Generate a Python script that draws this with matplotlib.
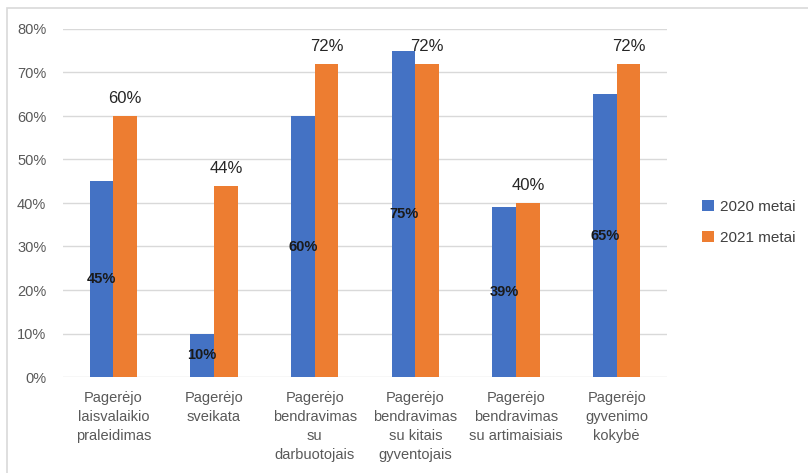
import matplotlib.pyplot as plt
import numpy as np
from matplotlib.patches import Rectangle

# Survey results, share of respondents (%)
categories = [
    "Pagerėjo\nlaisvalaikio\npraleidimas",
    "Pagerėjo\nsveikata",
    "Pagerėjo\nbendravimas\nsu\ndarbuotojais",
    "Pagerėjo\nbendravimas\nsu kitais\ngyventojais",
    "Pagerėjo\nbendravimas\nsu artimaisiais",
    "Pagerėjo\ngyvenimo\nkokybė",
]
values_2020 = [45, 10, 60, 75, 39, 65]
values_2021 = [60, 44, 72, 72, 40, 72]
series_names = ["2020 metai", "2021 metai"]

plt.rcParams['font.family'] = ['Liberation Sans', 'DejaVu Sans']

fig = plt.figure(figsize=(8.08, 4.73), dpi=100)
ax = fig.add_axes([63 / 808, 1 - 377 / 473, 604 / 808, 348 / 473])

# light frame around the chart area
fig.patches.append(Rectangle((7 / 808, -0.1), 1.2, 1 - 8 / 473 + 0.1,
                             transform=fig.transFigure, fill=False,
                             edgecolor='#D9D9D9', linewidth=1.2))

x = np.arange(len(categories))
w = 0.235
b1 = ax.bar(x - w / 2, values_2020, w, color='#4472C4', label=series_names[0], zorder=3)
b2 = ax.bar(x + w / 2, values_2021, w, color='#ED7D31', label=series_names[1], zorder=3)

for rect, v in zip(b1, values_2020):
    ax.text(rect.get_x() + rect.get_width() / 2, v / 2, f"{v}%",
            ha='center', va='center', fontsize=10.5, fontweight='bold',
            color='#1a1a1a', zorder=4)
for rect, v in zip(b2, values_2021):
    ax.annotate(f"{v}%", (rect.get_x() + rect.get_width() / 2, v),
                xytext=(0, 7), textcoords='offset points',
                ha='center', va='bottom', fontsize=12, color='#262626', zorder=4)

ax.set_xlim(-0.5, len(categories) - 0.5)
ax.set_ylim(0, 80)
ax.set_yticks(range(0, 81, 10))
ax.set_yticklabels([f"{t}%" for t in range(0, 81, 10)])
ax.set_xticks(x)
ax.set_xticklabels(categories, linespacing=1.45)

ax.grid(axis='y', color='#D9D9D9', linewidth=1, zorder=0)
for s in ax.spines.values():
    s.set_visible(False)
ax.tick_params(axis='both', length=0, labelsize=10.5, colors='#595959')
ax.tick_params(axis='x', pad=10)
ax.tick_params(axis='y', pad=12)

ax.legend(loc='center left', bbox_to_anchor=(1.035, 0.445), frameon=False,
          fontsize=11, handlelength=0.8, handleheight=0.8, handletextpad=0.4,
          labelspacing=1.1, labelcolor='#404040')

fig.savefig('out.png', dpi=100)
